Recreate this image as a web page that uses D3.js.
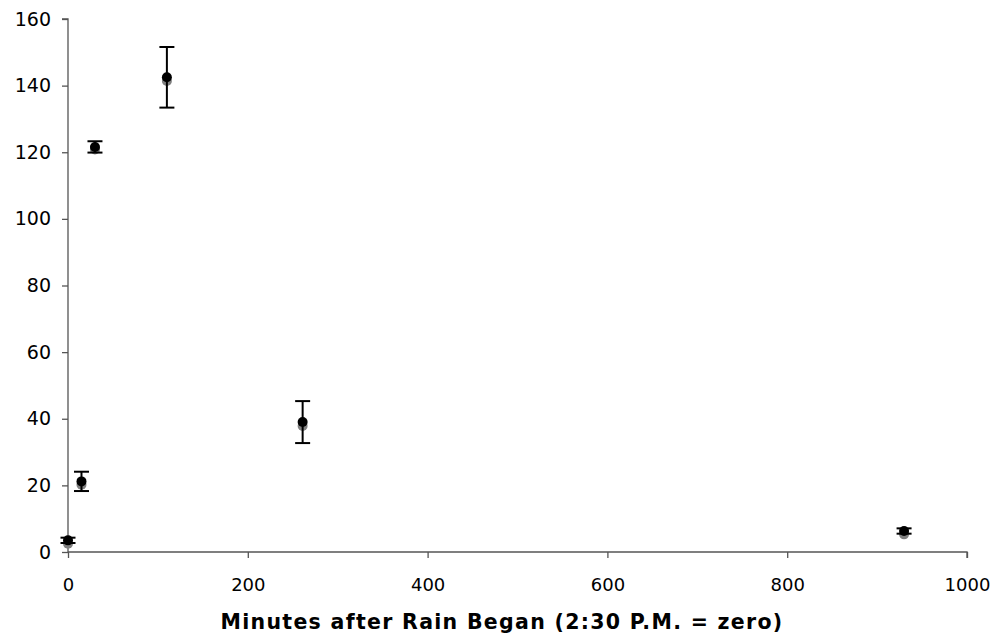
<!DOCTYPE html>
<html>
<head>
<meta charset="utf-8">
<script src="https://cdn.jsdelivr.net/npm/d3@7"></script>
<style>
  html, body { margin: 0; padding: 0; background: #fff; }
  svg text { font-family: "DejaVu Sans", Verdana, sans-serif; fill: #000; }
</style>
</head>
<body>
<svg id="chart" width="997" height="634"></svg>
<script>
// Minutes after rain began for each sample
const minutes = [0, 15, 30, 110, 261, 930];
// Second replicate (grey markers)
const seriesGrey = [2.5, 20.2, 120.8, 141.4, 37.8, 5.3];
// Mean values (black markers) and their error half-widths
const seriesBlack = [3.5, 21.2, 121.6, 142.5, 39.0, 6.3];
const errBlack = [0.8, 2.9, 1.7, 9.1, 6.3, 0.8];
const xTicks = [0, 200, 400, 600, 800, 1000];
const yTicks = [0, 20, 40, 60, 80, 100, 120, 140, 160];
const xTitle = "Minutes after Rain Began (2:30 P.M. = zero)";

const svg = d3.select("#chart");
const margin = { left: 68, top: 19, right: 30, bottom: 82 };
const W = 997, H = 634;

const x = d3.scaleLinear().domain([0, 1000]).range([margin.left, W - margin.right]);
const y = d3.scaleLinear().domain([0, 160]).range([H - margin.bottom, margin.top]);

const axisColor = "#555";

// Y axis
const gy = svg.append("g")
  .attr("transform", `translate(${x(0)},0)`)
  .call(d3.axisLeft(y).tickValues(yTicks).tickSize(6).tickPadding(11).tickFormat(d3.format("d")));
// X axis
const gx = svg.append("g")
  .attr("transform", `translate(0,${y(0)})`)
  .call(d3.axisBottom(x).tickValues(xTicks).tickSize(6).tickPadding(20).tickFormat(d3.format("d")));

[gx, gy].forEach(g => {
  g.select(".domain").attr("stroke", axisColor).attr("stroke-width", 1.3);
  g.selectAll(".tick line").attr("stroke", axisColor).attr("stroke-width", 1.3);
  g.selectAll(".tick text").style("font-size", "18px").attr("fill", "#000");
});
gy.selectAll(".tick text").style("font-size", "19px");
gy.select(".domain").attr("d", `M-6,${y(160)}H0V${y(0)}`);
gx.select(".domain").attr("d", `M${x(0)},0H${x(1000)}V6`);

// Axis title
svg.append("text")
  .attr("x", 502)
  .attr("y", 629)
  .attr("text-anchor", "middle")
  .style("font-size", "20.5px")
  .style("font-weight", "bold")
  .style("letter-spacing", "1.3px")
  .text(xTitle);

const pts = minutes.map((m, i) => ({ m, g: seriesGrey[i], b: seriesBlack[i], e: errBlack[i] }));

// Grey replicate markers
svg.append("g").selectAll("circle").data(pts).join("circle")
  .attr("cx", d => x(d.m)).attr("cy", d => y(d.g)).attr("r", 5)
  .attr("fill", "#808080");

// Error bars for the black series
const eb = svg.append("g").attr("stroke", "#000").attr("stroke-width", 2);
const cap = 7.5;
eb.selectAll("line.v").data(pts).join("line").attr("class", "v")
  .attr("x1", d => x(d.m)).attr("x2", d => x(d.m))
  .attr("y1", d => y(d.b + d.e)).attr("y2", d => y(d.b - d.e));
eb.selectAll("line.t").data(pts).join("line").attr("class", "t")
  .attr("x1", d => x(d.m) - cap).attr("x2", d => x(d.m) + cap)
  .attr("y1", d => y(d.b + d.e)).attr("y2", d => y(d.b + d.e));
eb.selectAll("line.btm").data(pts).join("line").attr("class", "btm")
  .attr("x1", d => x(d.m) - cap).attr("x2", d => x(d.m) + cap)
  .attr("y1", d => y(d.b - d.e)).attr("y2", d => y(d.b - d.e));

// Black mean markers
svg.append("g").selectAll("circle").data(pts).join("circle")
  .attr("cx", d => x(d.m)).attr("cy", d => y(d.b)).attr("r", 5)
  .attr("fill", "#000");
</script>
</body>
</html>
